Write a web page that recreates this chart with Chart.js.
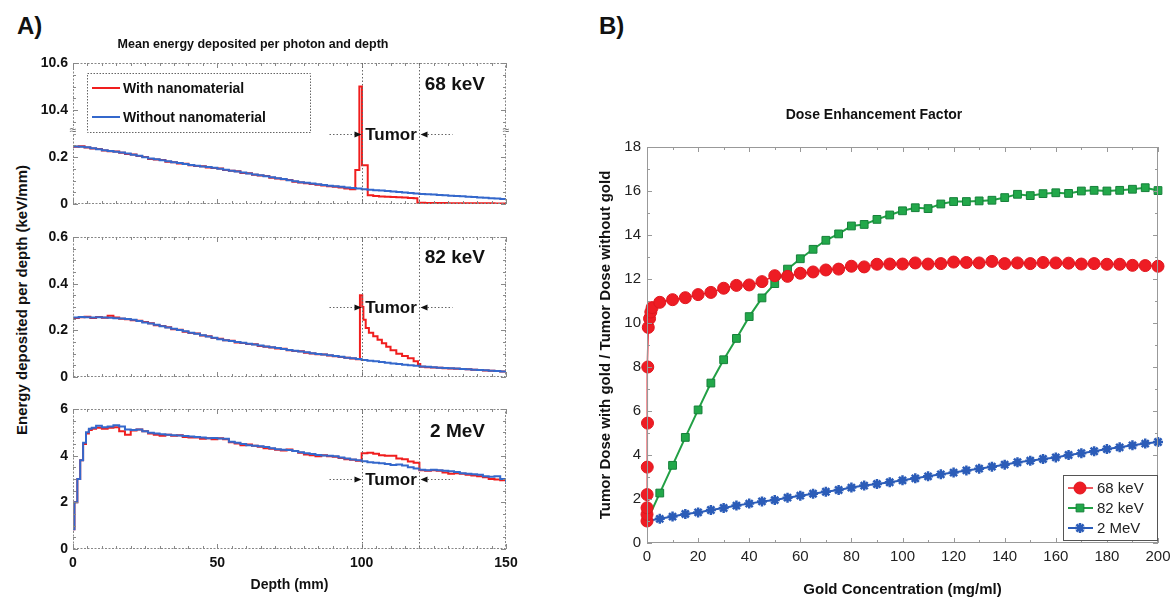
<!DOCTYPE html>
<html>
<head>
<meta charset="utf-8">
<script src="https://cdn.jsdelivr.net/npm/chart.js@4.4.1/dist/chart.umd.min.js"></script>
<style>
  body { margin: 0; width: 1175px; height: 601px; position: relative; overflow: hidden; background: #fff; font-family: "Liberation Sans", Arial, sans-serif; }
  canvas { position: absolute; }
  .txt { position: absolute; font-weight: bold; line-height: 1; white-space: nowrap; color: #111; }
</style>
</head>
<body>
<div class="txt" style="left:17px;top:14px;font-size:24px">A)</div>
<div class="txt" style="left:599px;top:14px;font-size:24px">B)</div>
<div class="txt" style="left:21px;top:300px;font-size:15px;transform:translate(-50%,-50%) rotate(-90deg)">Energy deposited per depth (keV/mm)</div>
<canvas id="kev68" width="520" height="180" style="left:0;top:30px"></canvas>
<canvas id="kev82" width="520" height="154" style="left:0;top:229px"></canvas>
<canvas id="mev2" width="520" height="200" style="left:0;top:401px"></canvas>
<canvas id="def" width="585" height="506" style="left:590px;top:95px"></canvas>
<script>
Chart.defaults.font.family = '"Liberation Sans", Arial, sans-serif';
Chart.defaults.color = '#111';

// ---------- A) energy deposited per depth ----------
const tumorRange = [100, 120];

const depth = [0, 2, 4, 6, 8, 10, 12, 14, 16, 18, 20, 22, 24, 26, 28, 30, 32, 34, 36, 38,
  40, 42, 44, 46, 48, 50, 52, 54, 56, 58, 60, 62, 64, 66, 68, 70, 72, 74, 76, 78,
  80, 82, 84, 86, 88, 90, 92, 94, 96, 98, 100, 102, 104, 106, 108, 110, 112, 114, 116, 118,
  120, 122, 124, 126, 128, 130, 132, 134, 136, 138, 140, 142, 144, 146, 148, 150];

// 68 keV
const without68 = [0.245, 0.244, 0.241, 0.237, 0.233, 0.229, 0.226, 0.222, 0.219, 0.215,
  0.210, 0.205, 0.199, 0.194, 0.190, 0.186, 0.182, 0.178, 0.174, 0.170,
  0.166, 0.163, 0.160, 0.157, 0.154, 0.150, 0.146, 0.142, 0.138, 0.134,
  0.130, 0.126, 0.122, 0.118, 0.114, 0.110, 0.106, 0.101, 0.097, 0.093,
  0.090, 0.087, 0.084, 0.081, 0.078, 0.076, 0.073, 0.070, 0.068, 0.066,
  0.063, 0.061, 0.059, 0.057, 0.055, 0.053, 0.051, 0.049, 0.047, 0.045,
  0.043, 0.041, 0.040, 0.038, 0.037, 0.035, 0.034, 0.033, 0.031, 0.030,
  0.028, 0.027, 0.025, 0.023, 0.021, 0.019];
const depth68With = [0, 2, 4, 6, 8, 10, 12, 14, 16, 18, 20, 22, 24, 26, 28, 30, 32, 34, 36, 38,
  40, 42, 44, 46, 48, 50, 52, 54, 56, 58, 60, 62, 64, 66, 68, 70, 72, 74, 76, 78,
  80, 82, 84, 86, 88, 90, 92, 94, 96, 97.8, 99.2, 100.1, 102.1, 104, 106, 108, 110, 112,
  114, 116, 118, 119.3, 122, 126, 130, 134, 138, 142, 146, 150];
const with68 = [0.244, 0.246, 0.240, 0.236, 0.234, 0.228, 0.224, 0.223, 0.218, 0.213,
  0.211, 0.204, 0.200, 0.192, 0.189, 0.187, 0.180, 0.178, 0.172, 0.171,
  0.165, 0.162, 0.161, 0.155, 0.153, 0.151, 0.145, 0.141, 0.139, 0.132,
  0.131, 0.124, 0.121, 0.119, 0.112, 0.109, 0.105, 0.102, 0.095, 0.092,
  0.088, 0.085, 0.082, 0.079, 0.076, 0.073, 0.070, 0.066, 0.063,
  0.145, 10.5, 0.165, 0.037, 0.034, 0.032, 0.031, 0.030, 0.029,
  0.028, 0.026, 0.025, 0.005, 0.004, 0.004, 0.003, 0.003, 0.003, 0.003, 0.002, 0.002];

// 82 keV
const without82 = [0.255, 0.257, 0.256, 0.255, 0.256, 0.255, 0.254, 0.252, 0.251, 0.249,
  0.245, 0.240, 0.234, 0.229, 0.224, 0.218, 0.212, 0.207, 0.201, 0.196,
  0.190, 0.185, 0.179, 0.174, 0.168, 0.162, 0.158, 0.154, 0.150, 0.147,
  0.143, 0.139, 0.135, 0.131, 0.127, 0.124, 0.120, 0.116, 0.113, 0.109,
  0.106, 0.102, 0.099, 0.096, 0.093, 0.090, 0.087, 0.083, 0.080, 0.077,
  0.073, 0.070, 0.067, 0.064, 0.061, 0.058, 0.056, 0.053, 0.050, 0.048,
  0.045, 0.044, 0.042, 0.040, 0.039, 0.037, 0.036, 0.034, 0.033, 0.031,
  0.030, 0.029, 0.027, 0.026, 0.024, 0.022];
const depth82With = [0, 2, 4, 6, 8, 10, 12, 14, 16, 18, 20, 22, 24, 26, 28, 30, 32, 34, 36, 38,
  40, 42, 44, 46, 48, 50, 52, 54, 56, 58, 60, 62, 64, 66, 68, 70, 72, 74, 76, 78,
  80, 82, 84, 86, 88, 90, 92, 94, 96, 98,
  99.4, 100.2, 100.6, 101.4, 102.5, 104, 105.5, 107, 108.5, 110, 112, 114, 116, 118, 119.5, 120.3,
  122, 124, 126, 128, 130, 132, 134, 136, 138, 140, 142, 144, 146, 148, 150];
const with82 = [0.253, 0.256, 0.258, 0.253, 0.257, 0.254, 0.262, 0.255, 0.250, 0.247,
  0.243, 0.241, 0.236, 0.230, 0.222, 0.219, 0.213, 0.205, 0.203, 0.194,
  0.189, 0.186, 0.178, 0.175, 0.167, 0.164, 0.157, 0.155, 0.148, 0.146,
  0.141, 0.140, 0.133, 0.130, 0.126, 0.122, 0.121, 0.115, 0.111, 0.110,
  0.104, 0.101, 0.098, 0.096, 0.092, 0.089, 0.086, 0.082, 0.079, 0.076,
  0.35, 0.30, 0.245, 0.21, 0.19, 0.175, 0.16, 0.145, 0.13, 0.115, 0.10, 0.09, 0.08, 0.068, 0.056, 0.044,
  0.042, 0.041, 0.040, 0.038, 0.036, 0.035, 0.034, 0.033, 0.031, 0.030, 0.028, 0.027, 0.026, 0.024, 0.021];

// 2 MeV (finer bins in the build-up region)
const depth2MeV = [0, 0.5, 1.5, 2.5, 3.5, 4.5, 5.5, 6.5, 8, 10, 12, 14, 16, 18, 20, 22, 24, 26, 28, 30,
  32, 34, 36, 38, 40, 42, 44, 46, 48, 50, 52, 54, 56, 58, 60, 62, 64, 66, 68, 70,
  72, 74, 76, 78, 80, 82, 84, 86, 88, 90, 92, 94, 96, 98, 100, 102, 104, 106, 108, 110,
  112, 114, 116, 118, 120, 122, 124, 126, 128, 130, 132, 134, 136, 138, 140, 142, 144, 146, 148, 150];
const without2MeV = [0.85, 2.0, 3.0, 3.8, 4.55, 5.0, 5.15, 5.2, 5.28, 5.22, 5.25, 5.3, 5.25, 5.12, 5.1, 5.12, 5.05, 4.98, 4.95, 4.92,
  4.9, 4.88, 4.86, 4.84, 4.82, 4.8, 4.78, 4.75, 4.76, 4.74, 4.72, 4.6, 4.55, 4.5, 4.45, 4.43, 4.4, 4.37, 4.32, 4.28,
  4.25, 4.24, 4.2, 4.15, 4.1, 4.07, 4.03, 4.01, 4.0, 3.97, 3.92, 3.88, 3.84, 3.8, 3.76, 3.72, 3.7, 3.67, 3.64, 3.6,
  3.62, 3.58, 3.5, 3.45, 3.4, 3.38, 3.4, 3.38, 3.35, 3.33, 3.3, 3.25, 3.22, 3.2, 3.18, 3.12, 3.1, 3.12, 3.0, 2.8];
const with2MeV = [0.85, 2.0, 3.0, 3.8, 4.5, 4.95, 5.1, 5.15, 5.2, 5.15, 5.2, 5.22, 5.05, 4.9, 5.08, 5.12, 5.05, 4.95, 4.9, 4.85,
  4.9, 4.85, 4.88, 4.8, 4.78, 4.78, 4.72, 4.75, 4.7, 4.75, 4.7, 4.58, 4.52, 4.45, 4.48, 4.42, 4.38, 4.32, 4.3, 4.25,
  4.22, 4.26, 4.2, 4.12, 4.05, 4.02, 3.98, 4.02, 3.97, 3.95, 3.9, 3.85, 3.82, 3.78, 4.1, 4.12, 4.08, 4.02, 4.0, 4.0,
  3.88, 3.85, 3.75, 3.7, 3.38, 3.35, 3.38, 3.35, 3.28, 3.22, 3.25, 3.22, 3.18, 3.15, 3.12, 3.08, 3.0, 2.98, 2.95, 2.8];

// ---------- B) dose enhancement factor ----------
const conc68 = [0, 0.01, 0.02, 0.05, 0.1, 0.2, 0.3, 0.5, 1, 1.5, 2,
  5, 10, 15, 20, 25, 30, 35, 40, 45, 50, 55, 60, 65, 70, 75, 80, 85, 90, 95, 100,
  105, 110, 115, 120, 125, 130, 135, 140, 145, 150, 155, 160, 165, 170, 175, 180, 185, 190, 195, 200];
const def68 = [1.0, 1.3, 1.6, 2.2, 3.45, 5.45, 8.0, 9.8, 10.2, 10.5, 10.7,
  10.94, 11.06, 11.15, 11.29, 11.39, 11.58, 11.71, 11.73, 11.88, 12.15, 12.12, 12.26, 12.32, 12.41, 12.45, 12.58, 12.55, 12.67, 12.68, 12.68,
  12.73, 12.68, 12.7, 12.77, 12.75, 12.73, 12.8, 12.7, 12.73, 12.7, 12.75, 12.73, 12.72, 12.68, 12.7, 12.67, 12.67, 12.62, 12.61, 12.58];
const conc = [0, 5, 10, 15, 20, 25, 30, 35, 40, 45, 50, 55, 60, 65, 70, 75, 80, 85, 90, 95, 100,
  105, 110, 115, 120, 125, 130, 135, 140, 145, 150, 155, 160, 165, 170, 175, 180, 185, 190, 195, 200];
const def82 = [1.0, 2.27, 3.53, 4.8, 6.05, 7.27, 8.33, 9.3, 10.29, 11.14, 11.79, 12.45, 12.92, 13.35, 13.76, 14.05, 14.41, 14.48, 14.71, 14.91, 15.1,
  15.24, 15.2, 15.41, 15.52, 15.52, 15.55, 15.58, 15.7, 15.85, 15.79, 15.88, 15.92, 15.89, 16.0, 16.03, 16.0, 16.03, 16.08, 16.15, 16.02];
const def2MeV = [1.0, 1.1, 1.2, 1.32, 1.39, 1.5, 1.59, 1.7, 1.79, 1.89, 1.95, 2.06, 2.15, 2.24, 2.33, 2.41, 2.52, 2.61, 2.68, 2.76, 2.85,
  2.94, 3.03, 3.12, 3.2, 3.3, 3.38, 3.47, 3.56, 3.67, 3.74, 3.82, 3.89, 4.0, 4.08, 4.17, 4.27, 4.35, 4.44, 4.52, 4.59];

const FONT = '"Liberation Sans", Arial, sans-serif';
const pts = (xs, ys) => xs.map((x, i) => ({ x: x, y: ys[i] }));
// the 68 keV axis is broken: values above 10 are drawn 10 lower
const broken = v => (v > 10 ? v - 10 : v);
const isMult = (v, m) => Math.abs(v / m - Math.round(v / m)) < 1e-6;
// keep tick labels from pushing the plot area around
const noPad = s => { s.paddingLeft = 0; s.paddingRight = 0; s.paddingTop = 0; s.paddingBottom = 0; };

// box round the plot with small inward ticks (matlab style)
const frame = {
  id: 'frame',
  afterDatasetsDraw(chart, args, o) {
    const { ctx, chartArea: a, scales: { x, y } } = chart;
    ctx.save();
    ctx.strokeStyle = o.color;
    ctx.lineWidth = 1;
    ctx.setLineDash(o.dash || []);
    ctx.strokeRect(a.left + 0.5, a.top + 0.5, a.width - 1, a.height - 1);
    ctx.setLineDash([]);
    ctx.beginPath();
    const nx = Math.round((x.max - x.min) / o.xStep);
    for (let i = 0; i <= nx; i++) {
      const v = x.min + i * o.xStep;
      const len = isMult(v, o.xMajor) ? 5 : 3;
      const px = Math.round(x.getPixelForValue(v)) + 0.5;
      ctx.moveTo(px, a.bottom); ctx.lineTo(px, a.bottom - len);
      ctx.moveTo(px, a.top); ctx.lineTo(px, a.top + len);
    }
    const ny = Math.round((y.max - y.min) / o.yStep);
    for (let i = 0; i <= ny; i++) {
      const v = y.min + i * o.yStep;
      const len = isMult(v, o.yMajor) ? 5 : 3;
      const py = Math.round(y.getPixelForValue(v)) + 0.5;
      ctx.moveTo(a.left, py); ctx.lineTo(a.left + len, py);
      ctx.moveTo(a.right, py); ctx.lineTo(a.right - len, py);
    }
    ctx.stroke();
    ctx.restore();
  }
};

// tumor boundaries, arrows, energy label and axis break
const tumor = {
  id: 'tumor',
  afterDatasetsDraw(chart, args, o) {
    if (!o.label) return;
    const { ctx, chartArea: a, scales: { x, y } } = chart;
    const x0 = Math.round(x.getPixelForValue(tumorRange[0])) + 0.5;
    const x1 = Math.round(x.getPixelForValue(tumorRange[1])) + 0.5;
    const py = Math.round(y.getPixelForValue(o.y)) + 0.5;
    ctx.save();
    ctx.strokeStyle = '#666';
    ctx.lineWidth = 1;
    ctx.setLineDash([1.5, 2]);
    ctx.beginPath();
    ctx.moveTo(x0, a.top); ctx.lineTo(x0, a.bottom);
    ctx.moveTo(x1, a.top); ctx.lineTo(x1, a.bottom);
    ctx.moveTo(x0 - 33, py); ctx.lineTo(x0 - 8, py);
    ctx.moveTo(x1 + 8, py); ctx.lineTo(x1 + 33, py);
    ctx.stroke();
    ctx.setLineDash([]);
    ctx.fillStyle = '#111';
    ctx.beginPath();
    ctx.moveTo(x0 - 1, py); ctx.lineTo(x0 - 8, py - 3); ctx.lineTo(x0 - 8, py + 3); ctx.closePath();
    ctx.moveTo(x1 + 1, py); ctx.lineTo(x1 + 8, py - 3); ctx.lineTo(x1 + 8, py + 3); ctx.closePath();
    ctx.fill();
    ctx.font = 'bold 17px ' + FONT;
    ctx.textAlign = 'center';
    ctx.textBaseline = 'middle';
    ctx.fillText('Tumor', (x0 + x1) / 2, py + 1);
    ctx.font = 'bold 19px ' + FONT;
    ctx.textAlign = 'right';
    ctx.fillText(o.label, a.right - 21, a.top + o.labelDy);
    if (o.breakAt !== undefined) {
      const by = y.getPixelForValue(o.breakAt);
      ctx.font = '12px ' + FONT;
      ctx.textAlign = 'center';
      ctx.fillStyle = '#fff';
      ctx.fillRect(a.left - 3, by - 3, 7, 6);
      ctx.fillRect(a.right - 4, by - 3, 7, 6);
      ctx.fillStyle = '#555';
      ctx.fillText('\u2248', a.left, by);
      ctx.fillText('\u2248', a.right, by);
    }
    ctx.restore();
  }
};

// line legend of the 68 keV panel
const lineLegend = {
  id: 'lineLegend',
  afterDatasetsDraw(chart, args, o) {
    if (!o.show) return;
    const { ctx, chartArea: a } = chart;
    const left = a.left + 14, top = a.top + 10, w = 223, h = 59;
    const items = chart.data.datasets.slice().reverse();
    ctx.save();
    ctx.fillStyle = '#fff';
    ctx.fillRect(left, top, w, h);
    ctx.strokeStyle = '#666';
    ctx.lineWidth = 1;
    ctx.setLineDash([1.5, 1.5]);
    ctx.strokeRect(left + 0.5, top + 0.5, w, h);
    ctx.setLineDash([]);
    ctx.font = 'bold 14px ' + FONT;
    ctx.textBaseline = 'middle';
    items.forEach((ds, i) => {
      const yy = top + 15 + i * 29;
      ctx.strokeStyle = ds.borderColor;
      ctx.lineWidth = 2;
      ctx.beginPath();
      ctx.moveTo(left + 5, yy); ctx.lineTo(left + 33, yy);
      ctx.stroke();
      ctx.fillStyle = '#111';
      ctx.fillText(ds.label, left + 36, yy + 1);
    });
    ctx.restore();
  }
};

// marker legend of the dose enhancement panel
const markerLegend = {
  id: 'markerLegend',
  afterDatasetsDraw(chart, args, o) {
    if (!o.show) return;
    const { ctx, chartArea: a } = chart;
    const w = 94, h = 65, left = a.right - 1 - w, top = a.bottom - 3 - h;
    ctx.save();
    ctx.fillStyle = '#fff';
    ctx.fillRect(left, top, w, h);
    ctx.strokeStyle = '#555';
    ctx.lineWidth = 1;
    ctx.strokeRect(left + 0.5, top + 0.5, w, h);
    ctx.font = '15px ' + FONT;
    ctx.textBaseline = 'middle';
    chart.data.datasets.forEach((ds, i) => {
      const yy = top + 13 + i * 20;
      ctx.strokeStyle = ds.borderColor;
      ctx.lineWidth = ds.borderWidth;
      ctx.beginPath();
      ctx.moveTo(left + 5, yy); ctx.lineTo(left + 30, yy);
      ctx.stroke();
      ctx.fillStyle = ds.pointBackgroundColor;
      ctx.strokeStyle = ds.pointBorderColor;
      ctx.lineWidth = ds.pointBorderWidth;
      Chart.helpers.drawPoint(ctx, { pointStyle: ds.pointStyle, radius: ds.pointRadius, rotation: 0, borderWidth: ds.pointBorderWidth }, left + 17, yy);
      ctx.fillStyle = '#222';
      ctx.fillText(ds.label, left + 34, yy + 1);
    });
    ctx.restore();
  }
};

Chart.register(frame, tumor, lineLegend, markerLegend);

const RED = '#f01e1e';
const BLUE = '#3468cc';

function profile(label, xs, ys, color) {
  return { label: label, data: pts(xs, ys), borderColor: color, borderWidth: 2, stepped: true, pointRadius: 0, fill: false };
}

function depthChart(id, datasets, y, plugins, layout, showX) {
  return new Chart(document.getElementById(id), {
    type: 'line',
    data: { datasets: datasets },
    options: {
      responsive: false,
      animation: false,
      events: [],
      layout: { autoPadding: false, padding: layout },
      scales: {
        x: {
          type: 'linear', min: 0, max: 150, display: showX,
          grid: { display: false, drawTicks: false }, border: { display: false },
          ticks: { stepSize: 50, padding: 6, color: '#111', font: { size: 14, weight: 'bold' } },
          title: { display: showX, text: 'Depth (mm)', color: '#111', font: { size: 14, weight: 'bold' }, padding: { top: 0, bottom: 7.6 } },
          afterFit: s => { s.height = showX ? 52 : 0; noPad(s); }
        },
        y: {
          min: 0, max: y.max,
          grid: { display: false, drawTicks: false }, border: { display: false },
          ticks: { stepSize: y.step, padding: 5, color: '#111', font: { size: 14, weight: 'bold' }, callback: y.label },
          afterFit: s => { s.width = 73; noPad(s); }
        }
      },
      plugins: Object.assign({
        legend: { display: false },
        tooltip: { enabled: false },
        frame: { color: '#888', dash: [2, 1.5], xStep: 5, xMajor: 50, yStep: y.max / 12, yMajor: y.step }
      }, plugins)
    }
  });
}

const fmt = v => (v === 0 ? '0' : v.toFixed(1));

depthChart('kev68', [
  profile('Without nanomaterial', depth, without68, BLUE),
  profile('With nanomaterial', depth68With, with68.map(broken), RED)
], { max: 0.6, step: 0.2, label: v => (v > 0.3 ? fmt(v + 10) : fmt(v)) }, {
  title: { display: true, text: 'Mean energy deposited per photon and depth', color: '#111', font: { size: 12.5, weight: 'bold' }, padding: { top: 7, bottom: 11 } },
  tumor: { label: '68 keV', labelDy: 22, y: 0.3, breakAt: 0.31 },
  lineLegend: { show: true }
}, { left: 0, right: 14, top: 0, bottom: 6 }, false);

depthChart('kev82', [
  profile('Without nanomaterial', depth, without82, BLUE),
  profile('With nanomaterial', depth82With, with82, RED)
], { max: 0.6, step: 0.2, label: fmt }, {
  tumor: { label: '82 keV', labelDy: 21, y: 0.3 }
}, { left: 0, right: 14, top: 8, bottom: 6 }, false);

depthChart('mev2', [
  profile('Without nanomaterial', depth2MeV, without2MeV, BLUE),
  profile('With nanomaterial', depth2MeV, with2MeV, RED)
], { max: 6, step: 2, label: v => String(v) }, {
  tumor: { label: '2 MeV', labelDy: 23, y: 3.0 }
}, { left: 0, right: 14, top: 8, bottom: 0 }, true);

new Chart(document.getElementById('def'), {
  type: 'line',
  data: {
    datasets: [
      { label: '68 keV', data: pts(conc68, def68), borderColor: '#e8202a', borderWidth: 1.5, tension: 0, clip: false,
        pointStyle: 'circle', pointRadius: 6, pointBackgroundColor: '#ee1c24', pointBorderColor: '#e0161e', pointBorderWidth: 1 },
      { label: '82 keV', data: pts(conc, def82), borderColor: '#22a045', borderWidth: 2, tension: 0, clip: false,
        pointStyle: 'rect', pointRadius: 5.5, pointBackgroundColor: '#22a84a', pointBorderColor: '#16803a', pointBorderWidth: 1 },
      { label: '2 MeV', data: pts(conc, def2MeV), borderColor: '#2b5cb8', borderWidth: 2, tension: 0, clip: false,
        pointStyle: 'star', pointRadius: 5, pointBackgroundColor: '#2b5cb8', pointBorderColor: '#2b5cb8', pointBorderWidth: 2.5 }
    ]
  },
  options: {
    responsive: false,
    animation: false,
    events: [],
    layout: { autoPadding: false, padding: { left: 0, right: 17, top: 0, bottom: 0 } },
    scales: {
      x: {
        type: 'linear', min: 0, max: 200,
        grid: { display: false, drawTicks: false }, border: { display: false },
        ticks: { stepSize: 20, padding: 5, color: '#222', font: { size: 15 } },
        title: { display: true, text: 'Gold Concentration (mg/ml)', color: '#111', font: { size: 15, weight: 'bold' }, padding: { top: 0, bottom: 2.6 } },
        afterFit: s => { s.height = 58; noPad(s); }
      },
      y: {
        min: 0, max: 18,
        grid: { display: false, drawTicks: false }, border: { display: false },
        ticks: { stepSize: 2, padding: 6, color: '#222', font: { size: 15 } },
        title: { display: true, text: 'Tumor Dose with gold / Tumor Dose without gold', color: '#111', font: { size: 15, weight: 'bold' }, padding: { top: 6.6, bottom: 0 } },
        afterFit: s => { s.width = 57; noPad(s); }
      }
    },
    plugins: {
      legend: { display: false },
      tooltip: { enabled: false },
      title: { display: true, text: 'Dose Enhancement Factor', color: '#111', font: { size: 14, weight: 'bold' }, padding: { top: 11.6, bottom: 23.6 } },
      frame: { color: '#999', xStep: 10, xMajor: 20, yStep: 1, yMajor: 2 },
      markerLegend: { show: true }
    }
  }
});
</script>
</body>
</html>
